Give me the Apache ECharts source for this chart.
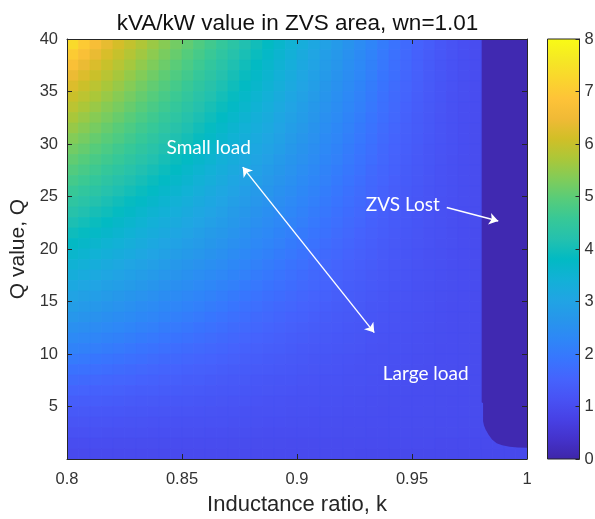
<!DOCTYPE html>
<html>
<head>
<meta charset="utf-8">
<script src="https://cdn.jsdelivr.net/npm/echarts@6/dist/echarts.min.js"></script>
<style>
  html, body { margin: 0; padding: 0; background: #ffffff; }
  #chart { width: 595px; height: 519px; }
</style>
</head>
<body>
<div id="chart"></div>
<script>
// Inductance ratio k at the centre of each map column
const kRatio = [
  0.8025, 0.8075, 0.8125, 0.8175, 0.8225, 0.8275, 0.8325, 0.8375, 0.8425, 0.8475,
  0.8525, 0.8575, 0.8625, 0.8675, 0.8725, 0.8775, 0.8825, 0.8875, 0.8925, 0.8975,
  0.9025, 0.9075, 0.9125, 0.9175, 0.9225, 0.9275, 0.9325, 0.9375, 0.9425, 0.9475,
  0.9525, 0.9575, 0.9625, 0.9675, 0.9725, 0.9775, 0.9825, 0.9875, 0.9925, 0.9975
];

// Q value at the centre of each map row, top row first
const qValue = [
  39.5, 38.5, 37.5, 36.5, 35.5, 34.5, 33.5, 32.5, 31.5, 30.5,
  29.5, 28.5, 27.5, 26.5, 25.5, 24.5, 23.5, 22.5, 21.5, 20.5,
  19.5, 18.5, 17.5, 16.5, 15.5, 14.5, 13.5, 12.5, 11.5, 10.5,
  9.5, 8.5, 7.5, 6.5, 5.5, 4.5, 3.5, 2.5, 1.5, 0.5
];

// kVA/kW: one list per kRatio entry, values from the top row (Q = 39.5) down
const kvaPerKw = [
  [7.32, 7.02, 6.72, 6.43, 6.23, 6.03, 5.87, 5.70, 5.53, 5.36,
   5.20, 5.04, 4.89, 4.73, 4.57, 4.41, 4.26, 4.10, 3.94, 3.78,
   3.62, 3.47, 3.31, 3.15, 2.99, 2.84, 2.68, 2.52, 2.36, 2.21,
   2.03, 1.85, 1.69, 1.54, 1.41, 1.30, 1.20, 1.12, 1.03, 0.97],
  [6.99, 6.71, 6.42, 6.23, 6.04, 5.88, 5.71, 5.55, 5.39, 5.23,
   5.08, 4.92, 4.77, 4.62, 4.46, 4.31, 4.16, 4.00, 3.85, 3.70,
   3.54, 3.39, 3.23, 3.08, 2.93, 2.78, 2.62, 2.47, 2.31, 2.16,
   1.98, 1.81, 1.66, 1.52, 1.39, 1.29, 1.20, 1.11, 1.03, 0.97],
  [6.66, 6.40, 6.21, 6.03, 5.87, 5.71, 5.55, 5.39, 5.24, 5.09,
   4.94, 4.79, 4.65, 4.50, 4.35, 4.20, 4.05, 3.90, 3.75, 3.60,
   3.45, 3.31, 3.16, 3.01, 2.86, 2.71, 2.56, 2.41, 2.26, 2.11,
   1.93, 1.77, 1.62, 1.49, 1.38, 1.28, 1.19, 1.11, 1.03, 0.97],
  [6.36, 6.18, 6.01, 5.85, 5.70, 5.55, 5.39, 5.25, 5.10, 4.96,
   4.81, 4.67, 4.52, 4.38, 4.23, 4.09, 3.95, 3.80, 3.66, 3.51,
   3.37, 3.22, 3.08, 2.93, 2.79, 2.64, 2.50, 2.36, 2.21, 2.05,
   1.88, 1.73, 1.59, 1.47, 1.36, 1.26, 1.18, 1.10, 1.03, 0.97],
  [6.15, 5.98, 5.83, 5.68, 5.54, 5.39, 5.25, 5.11, 4.96, 4.83,
   4.68, 4.55, 4.40, 4.26, 4.12, 3.98, 3.84, 3.70, 3.56, 3.42,
   3.28, 3.14, 3.00, 2.86, 2.72, 2.58, 2.44, 2.30, 2.16, 2.00,
   1.84, 1.70, 1.56, 1.45, 1.34, 1.25, 1.17, 1.10, 1.02, 0.96],
  [5.95, 5.80, 5.66, 5.51, 5.37, 5.23, 5.10, 4.96, 4.82, 4.69,
   4.55, 4.42, 4.28, 4.15, 4.01, 3.87, 3.74, 3.60, 3.47, 3.33,
   3.20, 3.06, 2.92, 2.79, 2.65, 2.52, 2.38, 2.25, 2.10, 1.94,
   1.79, 1.66, 1.54, 1.42, 1.33, 1.24, 1.16, 1.09, 1.02, 0.96],
  [5.76, 5.62, 5.48, 5.34, 5.21, 5.08, 4.95, 4.81, 4.68, 4.55,
   4.42, 4.29, 4.16, 4.03, 3.90, 3.76, 3.63, 3.50, 3.37, 3.24,
   3.11, 2.98, 2.85, 2.71, 2.58, 2.45, 2.32, 2.19, 2.04, 1.89,
   1.75, 1.62, 1.51, 1.40, 1.31, 1.23, 1.16, 1.09, 1.02, 0.96],
  [5.57, 5.44, 5.31, 5.18, 5.05, 4.93, 4.80, 4.67, 4.55, 4.42,
   4.29, 4.17, 4.04, 3.91, 3.79, 3.66, 3.53, 3.40, 3.28, 3.15,
   3.02, 2.90, 2.77, 2.64, 2.52, 2.39, 2.26, 2.13, 1.98, 1.84,
   1.71, 1.59, 1.48, 1.38, 1.29, 1.22, 1.15, 1.08, 1.02, 0.96],
  [5.39, 5.26, 5.14, 5.02, 4.90, 4.77, 4.65, 4.53, 4.41, 4.28,
   4.16, 4.04, 3.92, 3.79, 3.67, 3.55, 3.43, 3.30, 3.18, 3.06,
   2.94, 2.81, 2.69, 2.57, 2.45, 2.32, 2.20, 2.06, 1.92, 1.79,
   1.66, 1.55, 1.45, 1.36, 1.28, 1.20, 1.14, 1.08, 1.02, 0.96],
  [5.21, 5.10, 4.98, 4.86, 4.74, 4.62, 4.51, 4.39, 4.27, 4.15,
   4.03, 3.91, 3.80, 3.68, 3.56, 3.44, 3.32, 3.21, 3.09, 2.97,
   2.85, 2.73, 2.62, 2.50, 2.38, 2.26, 2.14, 2.00, 1.87, 1.74,
   1.63, 1.52, 1.43, 1.34, 1.26, 1.19, 1.13, 1.07, 1.01, 0.96],
  [5.04, 4.92, 4.81, 4.70, 4.58, 4.47, 4.36, 4.24, 4.13, 4.02,
   3.90, 3.79, 3.67, 3.56, 3.45, 3.33, 3.22, 3.11, 2.99, 2.88,
   2.77, 2.65, 2.54, 2.43, 2.31, 2.20, 2.07, 1.94, 1.81, 1.70,
   1.59, 1.49, 1.40, 1.32, 1.25, 1.18, 1.13, 1.07, 1.01, 0.96],
  [4.86, 4.75, 4.64, 4.53, 4.42, 4.31, 4.21, 4.10, 3.99, 3.88,
   3.77, 3.66, 3.55, 3.44, 3.33, 3.22, 3.11, 3.01, 2.90, 2.79,
   2.68, 2.57, 2.46, 2.35, 2.24, 2.13, 2.00, 1.87, 1.76, 1.65,
   1.55, 1.46, 1.38, 1.30, 1.23, 1.17, 1.12, 1.07, 1.01, 0.96],
  [4.69, 4.59, 4.48, 4.38, 4.27, 4.17, 4.06, 3.96, 3.85, 3.75,
   3.64, 3.54, 3.43, 3.33, 3.22, 3.12, 3.01, 2.91, 2.80, 2.70,
   2.59, 2.49, 2.38, 2.28, 2.17, 2.05, 1.93, 1.82, 1.71, 1.61,
   1.52, 1.43, 1.35, 1.28, 1.22, 1.16, 1.11, 1.06, 1.01, 0.96],
  [4.51, 4.41, 4.31, 4.21, 4.11, 4.01, 3.91, 3.81, 3.71, 3.61,
   3.51, 3.41, 3.31, 3.21, 3.11, 3.01, 2.91, 2.81, 2.71, 2.61,
   2.51, 2.41, 2.31, 2.21, 2.09, 1.98, 1.86, 1.76, 1.66, 1.57,
   1.48, 1.40, 1.33, 1.26, 1.20, 1.15, 1.11, 1.06, 1.01, 0.96],
  [4.34, 4.24, 4.14, 4.05, 3.95, 3.86, 3.76, 3.67, 3.57, 3.47,
   3.38, 3.28, 3.19, 3.09, 2.99, 2.90, 2.80, 2.71, 2.61, 2.51,
   2.42, 2.32, 2.23, 2.13, 2.01, 1.90, 1.80, 1.70, 1.61, 1.53,
   1.45, 1.37, 1.31, 1.25, 1.19, 1.14, 1.10, 1.05, 1.00, 0.96],
  [4.16, 4.07, 3.98, 3.89, 3.80, 3.71, 3.62, 3.52, 3.43, 3.34,
   3.25, 3.16, 3.07, 2.98, 2.88, 2.79, 2.70, 2.61, 2.52, 2.43,
   2.33, 2.24, 2.15, 2.04, 1.93, 1.83, 1.74, 1.65, 1.56, 1.49,
   1.41, 1.35, 1.29, 1.23, 1.18, 1.13, 1.09, 1.05, 1.00, 0.96],
  [3.99, 3.90, 3.81, 3.73, 3.64, 3.55, 3.47, 3.38, 3.29, 3.20,
   3.12, 3.03, 2.94, 2.86, 2.77, 2.68, 2.60, 2.51, 2.42, 2.33,
   2.25, 2.16, 2.06, 1.96, 1.86, 1.77, 1.68, 1.60, 1.52, 1.45,
   1.38, 1.32, 1.26, 1.21, 1.17, 1.12, 1.09, 1.05, 1.00, 0.96],
  [3.82, 3.73, 3.65, 3.57, 3.49, 3.40, 3.32, 3.24, 3.16, 3.07,
   2.99, 2.91, 2.83, 2.74, 2.66, 2.58, 2.49, 2.41, 2.33, 2.25,
   2.16, 2.06, 1.97, 1.87, 1.78, 1.70, 1.62, 1.55, 1.48, 1.41,
   1.35, 1.30, 1.24, 1.20, 1.15, 1.12, 1.08, 1.04, 1.00, 0.96],
  [3.64, 3.56, 3.48, 3.41, 3.33, 3.25, 3.17, 3.09, 3.01, 2.94,
   2.86, 2.78, 2.70, 2.62, 2.55, 2.47, 2.39, 2.31, 2.23, 2.15,
   2.06, 1.97, 1.88, 1.80, 1.72, 1.64, 1.57, 1.50, 1.44, 1.38,
   1.32, 1.27, 1.22, 1.18, 1.14, 1.11, 1.08, 1.04, 1.00, 0.96],
  [3.46, 3.39, 3.32, 3.24, 3.17, 3.09, 3.02, 2.95, 2.87, 2.80,
   2.73, 2.65, 2.58, 2.51, 2.43, 2.36, 2.28, 2.21, 2.13, 2.04,
   1.96, 1.87, 1.80, 1.72, 1.65, 1.58, 1.51, 1.45, 1.40, 1.34,
   1.29, 1.25, 1.21, 1.17, 1.13, 1.10, 1.07, 1.04, 0.99, 0.96],
  [3.29, 3.22, 3.15, 3.08, 3.02, 2.95, 2.88, 2.81, 2.74, 2.67,
   2.60, 2.53, 2.46, 2.39, 2.32, 2.25, 2.18, 2.11, 2.02, 1.94,
   1.86, 1.79, 1.72, 1.65, 1.59, 1.53, 1.47, 1.41, 1.36, 1.31,
   1.27, 1.23, 1.19, 1.15, 1.12, 1.09, 1.07, 1.03, 0.99, 0.96],
  [3.12, 3.05, 2.99, 2.92, 2.86, 2.79, 2.73, 2.66, 2.60, 2.53,
   2.47, 2.40, 2.34, 2.27, 2.21, 2.14, 2.06, 1.98, 1.91, 1.84,
   1.77, 1.70, 1.64, 1.58, 1.53, 1.47, 1.42, 1.37, 1.33, 1.28,
   1.24, 1.20, 1.17, 1.14, 1.11, 1.08, 1.06, 1.03, 0.99, 0.96],
  [2.94, 2.88, 2.82, 2.76, 2.70, 2.64, 2.58, 2.52, 2.46, 2.39,
   2.33, 2.27, 2.21, 2.15, 2.08, 2.01, 1.94, 1.87, 1.81, 1.74,
   1.68, 1.62, 1.57, 1.52, 1.47, 1.42, 1.37, 1.33, 1.29, 1.25,
   1.22, 1.18, 1.15, 1.13, 1.10, 1.08, 1.05, 1.03, 0.99, 0.96],
  [2.77, 2.71, 2.66, 2.60, 2.54, 2.49, 2.43, 2.38, 2.32, 2.26,
   2.21, 2.15, 2.08, 2.01, 1.95, 1.89, 1.83, 1.77, 1.71, 1.65,
   1.60, 1.55, 1.50, 1.46, 1.41, 1.37, 1.33, 1.30, 1.26, 1.23,
   1.19, 1.17, 1.14, 1.11, 1.09, 1.07, 1.05, 1.02, 0.99, 0.96],
  [2.59, 2.54, 2.49, 2.44, 2.39, 2.33, 2.28, 2.23, 2.18, 2.12,
   2.06, 2.00, 1.94, 1.88, 1.82, 1.77, 1.72, 1.67, 1.62, 1.57,
   1.53, 1.48, 1.44, 1.40, 1.36, 1.33, 1.29, 1.26, 1.23, 1.20,
   1.17, 1.15, 1.12, 1.10, 1.08, 1.06, 1.04, 1.02, 0.99, 0.96],
  [2.42, 2.37, 2.33, 2.28, 2.23, 2.18, 2.13, 2.08, 2.02, 1.96,
   1.91, 1.86, 1.81, 1.76, 1.71, 1.67, 1.62, 1.58, 1.53, 1.49,
   1.46, 1.42, 1.38, 1.35, 1.32, 1.29, 1.26, 1.23, 1.20, 1.18,
   1.15, 1.13, 1.11, 1.09, 1.07, 1.06, 1.04, 1.02, 0.98, 0.95],
  [2.24, 2.20, 2.16, 2.11, 2.05, 2.01, 1.96, 1.91, 1.86, 1.81,
   1.77, 1.73, 1.68, 1.64, 1.60, 1.56, 1.53, 1.49, 1.45, 1.42,
   1.39, 1.36, 1.33, 1.30, 1.27, 1.24, 1.22, 1.20, 1.17, 1.15,
   1.13, 1.11, 1.09, 1.08, 1.06, 1.05, 1.04, 1.01, 0.98, 0.95],
  [2.05, 2.00, 1.96, 1.91, 1.87, 1.83, 1.79, 1.75, 1.71, 1.67,
   1.64, 1.61, 1.57, 1.54, 1.50, 1.47, 1.44, 1.41, 1.38, 1.35,
   1.33, 1.30, 1.28, 1.25, 1.23, 1.21, 1.19, 1.17, 1.15, 1.13,
   1.11, 1.10, 1.08, 1.07, 1.05, 1.04, 1.03, 1.01, 0.98, 0.95],
  [1.86, 1.82, 1.78, 1.75, 1.71, 1.68, 1.65, 1.62, 1.58, 1.55,
   1.52, 1.50, 1.47, 1.44, 1.41, 1.39, 1.36, 1.34, 1.32, 1.29,
   1.27, 1.25, 1.23, 1.21, 1.19, 1.17, 1.16, 1.14, 1.12, 1.11,
   1.10, 1.08, 1.07, 1.06, 1.05, 1.04, 1.03, 1.01, 0.98, 0.95],
  [1.67, 1.65, 1.62, 1.59, 1.56, 1.54, 1.51, 1.49, 1.46, 1.44,
   1.42, 1.39, 1.37, 1.35, 1.33, 1.31, 1.29, 1.27, 1.25, 1.24,
   1.22, 1.20, 1.19, 1.17, 1.16, 1.14, 1.13, 1.11, 1.10, 1.09,
   1.08, 1.07, 1.06, 1.05, 1.04, 1.03, 1.02, 1.01, 0.98, 0.95],
  [1.51, 1.49, 1.47, 1.45, 1.43, 1.41, 1.39, 1.37, 1.36, 1.34,
   1.32, 1.30, 1.29, 1.27, 1.26, 1.24, 1.23, 1.21, 1.20, 1.18,
   1.17, 1.16, 1.15, 1.13, 1.12, 1.11, 1.10, 1.09, 1.08, 1.07,
   1.06, 1.05, 1.05, 1.04, 1.03, 1.03, 1.02, 1.00, 0.98, 0.95],
  [1.38, 1.36, 1.35, 1.33, 1.32, 1.31, 1.29, 1.28, 1.27, 1.25,
   1.24, 1.23, 1.22, 1.20, 1.19, 1.18, 1.17, 1.16, 1.15, 1.14,
   1.13, 1.12, 1.11, 1.10, 1.10, 1.09, 1.08, 1.07, 1.06, 1.06,
   1.05, 1.04, 1.04, 1.03, 1.03, 1.02, 1.02, 1.00, 0.98, 0.95],
  [1.26, 1.25, 1.24, 1.23, 1.22, 1.21, 1.20, 1.19, 1.18, 1.18,
   1.17, 1.16, 1.15, 1.14, 1.14, 1.13, 1.12, 1.11, 1.11, 1.10,
   1.09, 1.09, 1.08, 1.07, 1.07, 1.06, 1.06, 1.05, 1.05, 1.04,
   1.04, 1.03, 1.03, 1.02, 1.02, 1.02, 1.01, 1.00, 0.97, 0.95],
  [1.16, 1.16, 1.15, 1.15, 1.14, 1.13, 1.13, 1.12, 1.12, 1.11,
   1.11, 1.10, 1.10, 1.09, 1.09, 1.08, 1.08, 1.07, 1.07, 1.07,
   1.06, 1.06, 1.05, 1.05, 1.05, 1.04, 1.04, 1.04, 1.03, 1.03,
   1.03, 1.02, 1.02, 1.02, 1.01, 1.01, 1.01, 1.00, 0.97, 0.95],
  [1.08, 1.08, 1.07, 1.07, 1.07, 1.07, 1.06, 1.06, 1.06, 1.06,
   1.06, 1.05, 1.05, 1.05, 1.05, 1.05, 1.04, 1.04, 1.04, 1.04,
   1.04, 1.03, 1.03, 1.03, 1.03, 1.03, 1.02, 1.02, 1.02, 1.02,
   1.02, 1.01, 1.01, 1.01, 1.01, 1.01, 1.00, 0.99, 0.97, 0.95],
  [1.03, 1.03, 1.03, 1.03, 1.03, 1.03, 1.03, 1.03, 1.02, 1.02,
   1.02, 1.02, 1.02, 1.02, 1.02, 1.02, 1.02, 1.02, 1.01, 1.01,
   1.01, 1.01, 1.01, 1.01, 1.01, 1.01, 1.01, 1.01, 1.00, 1.00,
   1.00, 1.00, 1.00, 1.00, 1.00, 1.00, 1.00, 0.99, 0.97, 0.95],
  [1.00, 1.00, 1.00, 1.00, 1.00, 1.00, 1.00, 1.00, 1.00, 1.00,
   1.00, 1.00, 1.00, 1.00, 1.00, 1.00, 1.00, 1.00, 1.00, 1.00,
   1.00, 1.00, 1.00, 1.00, 1.00, 1.00, 1.00, 1.00, 1.00, 1.00,
   1.00, 1.00, 1.00, 1.00, 1.00, 1.00, 1.00, 0.99, 0.97, 0.95],
  [1.00, 1.00, 1.00, 1.00, 1.00, 1.00, 1.00, 1.00, 1.00, 1.00,
   1.00, 1.00, 1.00, 1.00, 1.00, 1.00, 1.00, 1.00, 1.00, 1.00,
   1.00, 1.00, 1.00, 1.00, 1.00, 1.00, 1.00, 1.00, 1.00, 1.00,
   1.00, 1.00, 1.00, 1.00, 1.00, 1.00, 1.00, 0.99, 0.97, 0.95],
  [1.00, 1.00, 1.00, 1.00, 1.00, 1.00, 1.00, 1.00, 1.00, 1.00,
   1.00, 1.00, 1.00, 1.00, 1.00, 1.00, 1.00, 1.00, 1.00, 1.00,
   1.00, 1.00, 1.00, 1.00, 1.00, 1.00, 1.00, 1.00, 1.00, 1.00,
   1.00, 1.00, 1.00, 1.00, 1.00, 1.00, 1.00, 0.99, 0.97, 0.95],
  [1.00, 1.00, 1.00, 1.00, 1.00, 1.00, 1.00, 1.00, 1.00, 1.00,
   1.00, 1.00, 1.00, 1.00, 1.00, 1.00, 1.00, 1.00, 1.00, 1.00,
   1.00, 1.00, 1.00, 1.00, 1.00, 1.00, 1.00, 1.00, 1.00, 1.00,
   1.00, 1.00, 1.00, 1.00, 1.00, 1.00, 1.00, 0.99, 0.97, 0.95]
];

// Outline of the region where ZVS is lost, as (k, Q) pairs
const zvsLostK = [0.9803, 0.9803, 0.9809, 0.9809, 0.9813, 0.9820, 0.9833, 0.9848, 0.9868, 0.9892, 0.9925, 0.9960, 1.0, 1.0];
const zvsLostQ = [40, 5.4, 5.3, 3.6, 3.2, 2.8, 2.3, 1.85, 1.5, 1.3, 1.17, 1.1, 1.08, 40];
// Level used to colour that region
const zvsLostLevel = [0.1];

// Colour bar ticks
const colorbarTicks = [0, 1, 2, 3, 4, 5, 6, 7, 8];

// Parula colour map, sampled at equal steps
const parula = [
  '#3e26a8', '#4432cb', '#4741e5', '#4852f4', '#4563fd', '#3875fe', '#2e87f7', '#2796eb',
  '#20a5e3', '#12b1d6', '#02bac3', '#24c1ae', '#37c897', '#57cc7a', '#81cc59', '#abc739',
  '#d1bf27', '#f0ba36', '#fec338', '#fad62d', '#f5e924', '#f9fb15'
];

const axisColor = '#262626';
const labelColor = '#333333';
const axisFont = 'Liberation Sans, Arial, sans-serif';
const noteFont = 'Lato, Open Sans, sans-serif';

// Map cells: [k, Q, kVA/kW]
const cellData = [];
kRatio.forEach((k, c) => {
  qValue.forEach((q, r) => {
    cellData.push([k, q, kvaPerKw[c][r]]);
  });
});
const kStep = kRatio[1] - kRatio[0];
const qStep = qValue[0] - qValue[1];

const cbMin = colorbarTicks[0];
const cbMax = colorbarTicks[colorbarTicks.length - 1];

// Text notes on the map and their arrows, placed in axis units
const notes = [
  { text: 'Small load', at: [0.8433, 29.6] },
  { text: 'ZVS Lost',   at: [0.9299, 24.2] },
  { text: 'Large load', at: [0.9373, 8.1] }
];
const arrows = [
  { coords: [[0.8764, 27.8], [0.9336, 12.04]], both: true },
  { coords: [[0.9651, 23.95], [0.9875, 22.67]], both: false }
];

const chart = echarts.init(document.getElementById('chart'), null, { renderer: 'canvas' });

const mainTick = { show: true, inside: true, length: 5, lineStyle: { color: axisColor, width: 1 } };
const mainLine = { show: true, onZero: false, lineStyle: { color: axisColor, width: 1 } };

chart.setOption({
  backgroundColor: '#ffffff',
  animation: false,
  title: {
    text: 'kVA/kW value in ZVS area, wn=1.01',
    left: 'center',
    top: 7,
    textStyle: { fontSize: 22.5, fontWeight: 'normal', color: '#111111', fontFamily: axisFont }
  },
  grid: [
    { left: 67, top: 39, width: 460, height: 420, containLabel: false, outerBoundsMode: 'none' },
    { left: 547.5, top: 39, width: 32, height: 420, containLabel: false, outerBoundsMode: 'none' }
  ],
  xAxis: [
    {
      type: 'value', gridIndex: 0, position: 'bottom', min: 0.8, max: 1, interval: 0.05, z: 10,
      axisLine: mainLine, axisTick: mainTick, splitLine: { show: false },
      axisLabel: { color: labelColor, fontSize: 16.5, fontFamily: axisFont, margin: 12 },
      name: 'Inductance ratio, k', nameLocation: 'middle', nameGap: 35,
      nameTextStyle: { color: axisColor, fontSize: 22, fontFamily: axisFont }
    },
    {
      type: 'value', gridIndex: 0, position: 'top', min: 0.8, max: 1, interval: 0.05, z: 10,
      axisLine: mainLine, axisTick: mainTick, splitLine: { show: false }, axisLabel: { show: false }
    },
    { type: 'value', gridIndex: 1, min: 0, max: 1, show: false }
  ],
  yAxis: [
    {
      type: 'value', gridIndex: 0, position: 'left', min: 0, max: 40, interval: 5, z: 10,
      axisLine: mainLine, axisTick: mainTick, splitLine: { show: false },
      axisLabel: {
        color: labelColor, fontSize: 16.5, fontFamily: axisFont, margin: 9,
        formatter: v => (v === 0 ? '' : String(v))
      },
      name: 'Q value, Q', nameLocation: 'middle', nameGap: 38,
      nameTextStyle: { color: axisColor, fontSize: 21, fontFamily: axisFont }
    },
    {
      type: 'value', gridIndex: 0, position: 'right', min: 0, max: 40, interval: 5, z: 10,
      axisLine: mainLine, axisTick: mainTick, splitLine: { show: false }, axisLabel: { show: false }
    },
    {
      type: 'value', gridIndex: 1, position: 'right', min: cbMin, max: cbMax, interval: 1, z: 10,
      axisLine: mainLine,
      axisTick: { show: true, inside: true, length: 4, lineStyle: { color: axisColor, width: 1 } },
      splitLine: { show: false },
      axisLabel: { color: labelColor, fontSize: 16.5, fontFamily: axisFont, margin: 5 }
    }
  ],
  visualMap: {
    type: 'continuous', show: false, min: cbMin, max: cbMax, dimension: 2,
    seriesIndex: [0, 1], inRange: { color: parula }
  },
  series: [
    {
      // kVA/kW map cells
      type: 'custom', xAxisIndex: 0, yAxisIndex: 0, z: 2, clip: true,
      data: cellData,
      renderItem: function (params, api) {
        const k = api.value(0), q = api.value(1);
        const p0 = api.coord([k - kStep / 2, q + qStep / 2]);
        const p1 = api.coord([k + kStep / 2, q - qStep / 2]);
        const color = api.visual('color');
        return {
          type: 'rect',
          shape: { x: p0[0], y: p0[1], width: p1[0] - p0[0], height: p1[1] - p0[1] },
          style: { fill: color, stroke: color, lineWidth: 0.8 }
        };
      }
    },
    {
      // region where ZVS is lost
      type: 'custom', xAxisIndex: 0, yAxisIndex: 0, z: 3, clip: true,
      data: [[zvsLostK[0], zvsLostQ[0], zvsLostLevel[0]]],
      renderItem: function (params, api) {
        const pts = zvsLostK.map((k, i) => api.coord([k, zvsLostQ[i]]));
        return {
          type: 'polygon',
          shape: { points: pts },
          style: { fill: api.visual('color') }
        };
      }
    },
    {
      // colour bar
      type: 'custom', xAxisIndex: 2, yAxisIndex: 2, z: 2,
      data: [[0, cbMin, 1, cbMax]],
      renderItem: function (params, api) {
        const p0 = api.coord([api.value(0), api.value(3)]);
        const p1 = api.coord([api.value(2), api.value(1)]);
        const stops = parula.map((c, i) => ({ offset: i / (parula.length - 1), color: c }));
        return {
          type: 'rect',
          shape: { x: p0[0], y: p0[1], width: p1[0] - p0[0], height: p1[1] - p0[1] },
          style: {
            fill: new echarts.graphic.LinearGradient(0, 1, 0, 0, stops),
            stroke: axisColor, lineWidth: 1
          }
        };
      }
    },
    {
      // arrows
      type: 'lines', coordinateSystem: 'cartesian2d', xAxisIndex: 0, yAxisIndex: 0, z: 6,
      data: arrows.map(a => ({
        coords: a.coords,
        symbol: a.both ? ['arrow', 'arrow'] : ['none', 'arrow']
      })),
      symbolSize: 9,
      lineStyle: { color: '#ffffff', width: 1.4, opacity: 1, curveness: 0 },
      itemStyle: { color: '#ffffff' },
      silent: true
    },
    {
      // note texts
      type: 'custom', xAxisIndex: 0, yAxisIndex: 0, z: 7,
      data: notes.map(n => n.at),
      renderItem: function (params, api) {
        const p = api.coord([api.value(0), api.value(1)]);
        return {
          type: 'text',
          x: p[0], y: p[1],
          style: {
            text: notes[params.dataIndex].text,
            fill: '#ffffff',
            fontSize: 19,
            fontFamily: noteFont,
            align: 'left',
            verticalAlign: 'middle'
          }
        };
      }
    }
  ]
});
</script>
</body>
</html>
